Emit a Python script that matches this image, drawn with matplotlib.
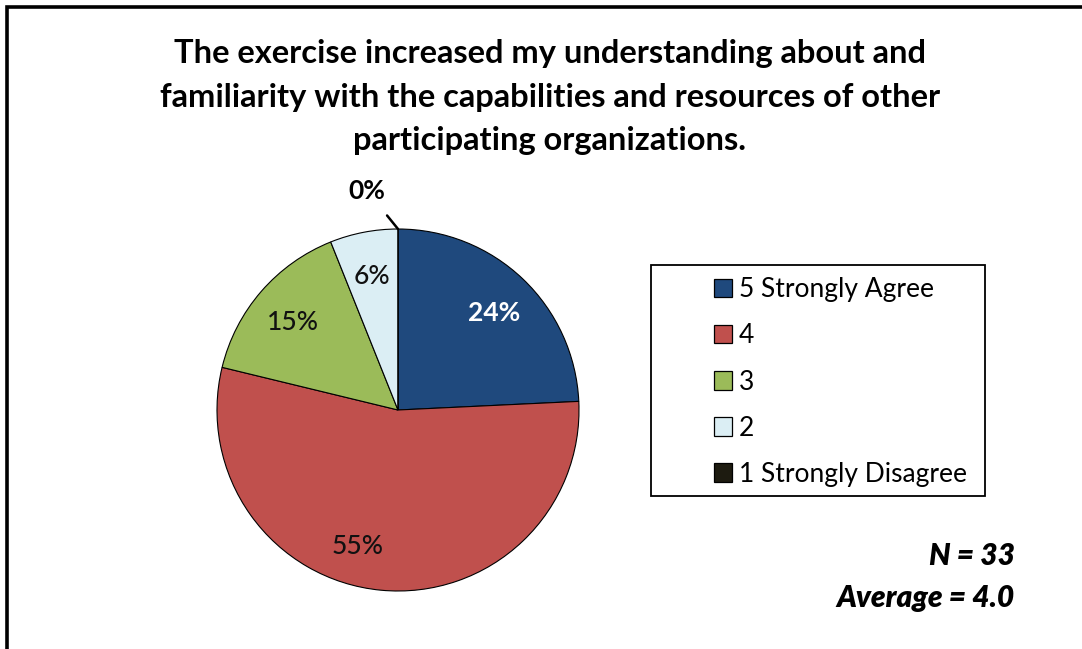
import matplotlib
matplotlib.use('Agg')
import matplotlib.pyplot as plt
from matplotlib.patches import Patch, Rectangle
import numpy as np

# survey responses (counts, N = 33)
labels = ['5 Strongly Agree', '4', '3', '2', '1 Strongly Disagree']
counts = [8, 18, 5, 2, 0]
pct_text = ['24%', '55%', '15%', '6%', '0%']
colors = ['#1F497D', '#C0504D', '#9BBB59', '#DBEEF4', '#1D1B10']
title = ('The exercise increased my understanding about and\n'
         'familiarity with the capabilities and resources of other\n'
         'participating organizations.')
n_resp = 33
average = 4.0

plt.rcParams['font.family'] = ['Lato', 'DejaVu Sans']

W, H = 1082, 649
fig = plt.figure(figsize=(W / 100, H / 100), dpi=100)
fig.patch.set_facecolor('white')

# outer frame (only left and top edges visible in the crop)
fig.add_artist(Rectangle((7 / W, -0.2), 1.2, 1.2 - 7 / H,
                         transform=fig.transFigure, fill=False,
                         lw=2.6, edgecolor='black'))

fig.text(0.508, 1 - 97 / H, title, ha='center', va='center', fontsize=23.5,
         fontweight='bold', linespacing=1.6)

cx, cy, r = 398, 410, 181
ax = fig.add_axes([(cx - r) / W, (H - cy - r) / H, 2 * r / W, 2 * r / H])
wedges, _ = ax.pie(counts, colors=colors, startangle=90, counterclock=False,
                   radius=1.0, wedgeprops=dict(edgecolor='black', linewidth=0.8))
ax.set_xlim(-1, 1)
ax.set_ylim(-1, 1)
ax.axis('off')

for i, w in enumerate(wedges):
    mid = np.deg2rad((w.theta1 + w.theta2) / 2)
    tc = 'white' if i == 0 else '#111111'
    fw = 'bold' if i == 0 else 'medium'
    if counts[i] == 0:
        a = np.deg2rad(w.theta1)
        ax.annotate(pct_text[i], xy=(np.cos(a), np.sin(a)),
                    xytext=(np.cos(a) - 0.17, np.sin(a) + 0.21),
                    ha='center', va='center', fontsize=19, fontweight='bold',
                    arrowprops=dict(arrowstyle='-', color='black', lw=1.8,
                                    shrinkA=9, shrinkB=0),
                    annotation_clip=False)
        continue
    d = 0.77
    if i == 1:
        mid -= 0.2  # Excel nudges the big slice's label left
    ax.text(d * np.cos(mid), d * np.sin(mid) - 0.02, pct_text[i], ha='center',
            va='center', fontsize=19, fontweight=fw, color=tc)

# legend frame drawn separately (Excel leaves a wide left margin)
fig.add_artist(Rectangle((651 / W, 1 - 496 / H), (985 - 651) / W, (496 - 265) / H,
                         transform=fig.transFigure, fill=False,
                         lw=1.3, edgecolor='black'))
handles = [Patch(facecolor=c, edgecolor='black', linewidth=0.9) for c in colors]
leg = fig.legend(handles, labels, loc='center left',
                 bbox_to_anchor=(714 / W, 1 - 382 / H), bbox_transform=fig.transFigure,
                 frameon=False, fontsize=19,
                 handlelength=0.7, handleheight=0.7, handletextpad=0.25,
                 labelspacing=0.8, borderpad=0, borderaxespad=0)

fig.text(1015 / W, 1 - 556 / H, f'N = {n_resp}', ha='right', va='center',
         fontsize=21.5, fontweight='heavy', style='italic')
fig.text(1015 / W, 1 - 598 / H, f'Average = {average:.1f}', ha='right',
         va='center', fontsize=21.5, fontweight='heavy', style='italic')

fig.savefig('out.png', dpi=100, facecolor='white')
